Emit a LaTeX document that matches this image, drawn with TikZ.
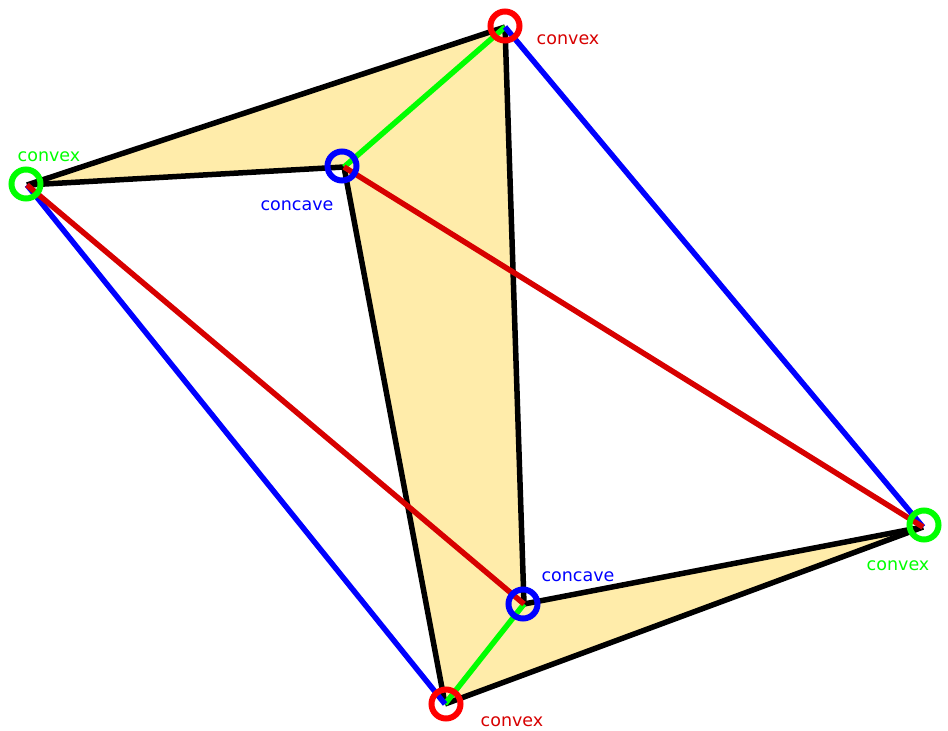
\documentclass[tikz,border=0pt]{standalone}
\usepackage{fontspec}
\setmainfont{DejaVu Sans}
\usetikzlibrary{positioning}
\definecolor{polyfill}{RGB}{255,236,170}
\definecolor{edgered}{RGB}{215,0,0}

\begin{document}
\begin{tikzpicture}[x=1pt,y=-1pt,line width=5.5pt,line join=miter,
  ring/.style={circle,draw,line width=6pt,minimum size=29pt,inner sep=0pt},
  tag/.style={font=\fontsize{17.5}{20}\selectfont,inner sep=0pt}]
  \useasboundingbox (0,0) rectangle (948,731);
  % vertices
  \coordinate (1) at (27,185);
  \coordinate (2) at (505,27);
  \coordinate (3) at (344,167);
  \coordinate (4) at (923,527);
  \coordinate (5) at (524,604);
  \coordinate (6) at (445,704);
  \fill[polyfill] (1) -- (2) -- (5) -- (4) -- (6) -- (3) -- cycle;
  \path[draw=black]
    (1) edge (2)
    (1) edge (3)
    (3) edge (6)
    (2) edge (5)
    (5) edge (4)
    (4) edge (6);
  \path[green]
    (3) edge (2)
    (5) edge (6);
  \path[blue]
    (2) edge (4)
    (1) edge (6);
  \path[edgered]
    (1) edge (5)
    (3) edge (4);
  % rings
  \node[ring,draw=red] (r2) at (505,26) {};
  \node[ring,draw=green] (r1) at (26,184) {};
  \node[ring,draw=blue] (r3) at (342,166) {};
  \node[ring,draw=green] (r4) at (924,525) {};
  \node[ring,draw=blue] (r5) at (523,604) {};
  \node[ring,draw=red] (r6) at (446,704) {};
  % labels
  \node[tag,text=edgered] (t2) at (568,40) {convex};
  \node[tag,text=green] (t1) at (49,157) {convex};
  \node[tag,text=blue] (t3) at (297,206) {concave};
  \node[tag,text=green] (t4) at (898,566) {convex};
  \node[tag,text=blue] (t5) at (578,577) {concave};
  \node[tag,text=edgered] (t6) at (512,722) {convex};
\end{tikzpicture}
\end{document}
